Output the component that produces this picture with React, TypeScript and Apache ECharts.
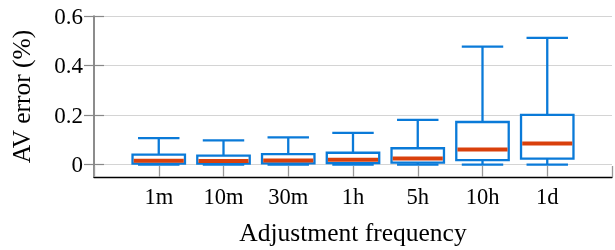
import React, { useEffect, useRef } from "react";
import * as echarts from "echarts";

const categories = ["1m", "10m", "30m", "1h", "5h", "10h", "1d"];
const minValues = [0, 0, 0, 0, 0, 0, 0];
const q1Values = [0.004, 0.004, 0.005, 0.006, 0.008, 0.018, 0.024];
const medianValues = [0.016, 0.015, 0.017, 0.02, 0.025, 0.061, 0.085];
const q3Values = [0.04, 0.036, 0.042, 0.048, 0.066, 0.172, 0.201];
const maxValues = [0.107, 0.098, 0.11, 0.128, 0.181, 0.476, 0.512];
const yTicks = [0, 0.2, 0.4, 0.6];

const BLUE = "#0a7ad8";
const ORANGE = "#d9400c";
const FONT = "'Liberation Serif', 'Times New Roman', serif";

export default function App() {
  const ref = useRef<HTMLDivElement>(null);
  useEffect(() => {
    if (!ref.current) return;
    const chart = echarts.init(ref.current, null, { renderer: "svg" });
    const data = categories.map((_, i) => [
      i + 1,
      minValues[i],
      q1Values[i],
      medianValues[i],
      q3Values[i],
      maxValues[i],
    ]);
    chart.setOption({
      animation: false,
      grid: { left: 91, top: 16, width: 525, height: 164 },
      xAxis: {
        type: "value",
        min: 0,
        max: categories.length + 1,
        interval: 1,
        name: "Adjustment frequency",
        nameLocation: "middle",
        nameGap: 42,
        nameTextStyle: { fontFamily: FONT, fontSize: 25.5, color: "#000" },
        axisLine: { show: true, onZero: false, lineStyle: { color: "#000", width: 1.3 } },
        axisTick: {
          show: true,
          inside: true,
          length: 11,
          lineStyle: { color: "#999", width: 1.3 },
        },
        axisLabel: {
          fontFamily: FONT,
          fontSize: 22.5,
          color: "#000",
          margin: 8,
          formatter: (v: number) => categories[Math.round(v) - 1] ?? "",
        },
        splitLine: { show: false },
      },
      yAxis: [
        {
          type: "value",
          min: -0.05,
          max: 0.6,
          name: "AV error (%)",
          nameLocation: "middle",
          nameGap: 60,
          nameTextStyle: { fontFamily: FONT, fontSize: 25.5, color: "#000" },
          axisLine: { show: true, onZero: false, lineStyle: { color: "#666", width: 1.5 } },
          axisTick: {
            show: true,
            inside: true,
            length: 10,
            lineStyle: { color: "#888", width: 1.2 },
            customValues: yTicks,
          },
          axisLabel: {
            fontFamily: FONT,
            fontSize: 23,
            color: "#000",
            margin: 11,
            customValues: yTicks,
          },
          splitLine: { show: true, lineStyle: { color: "#d4d4d4", width: 1.2 } },
        },
        {
          type: "value",
          min: -0.05,
          max: 0.6,
          position: "right",
          axisLine: { show: false },
          axisTick: {
            show: true,
            inside: true,
            length: 10,
            lineStyle: { color: "#888", width: 1.2 },
            customValues: yTicks,
          },
          axisLabel: { show: false, customValues: yTicks },
          splitLine: { show: false },
        },
      ],
      series: [
        {
          type: "custom",
          data,
          encode: { x: 0, y: [1, 2, 3, 4, 5] },
          renderItem: (params: any, api: any) => {
            const x = api.value(0);
            const band = api.size([1, 0])[0];
            const bw = band * 0.81;
            const cw = band * 0.64;
            const pMin = api.coord([x, api.value(1)]);
            const pQ1 = api.coord([x, api.value(2)]);
            const pMed = api.coord([x, api.value(3)]);
            const pQ3 = api.coord([x, api.value(4)]);
            const pMax = api.coord([x, api.value(5)]);
            const cx = pMin[0];
            const lineStyle = { stroke: BLUE, lineWidth: 2.3, fill: null };
            return {
              type: "group",
              children: [
                {
                  type: "line",
                  shape: { x1: cx, y1: pMax[1], x2: cx, y2: pQ3[1] },
                  style: lineStyle,
                },
                {
                  type: "line",
                  shape: { x1: cx, y1: pQ1[1], x2: cx, y2: pMin[1] },
                  style: lineStyle,
                },
                {
                  type: "line",
                  shape: { x1: cx - cw / 2, y1: pMax[1], x2: cx + cw / 2, y2: pMax[1] },
                  style: lineStyle,
                },
                {
                  type: "line",
                  shape: { x1: cx - cw / 2, y1: pMin[1], x2: cx + cw / 2, y2: pMin[1] },
                  style: lineStyle,
                },
                {
                  type: "rect",
                  shape: { x: cx - bw / 2, y: pQ3[1], width: bw, height: pQ1[1] - pQ3[1] },
                  style: { stroke: BLUE, lineWidth: 2.3, fill: "#fff" },
                },
                {
                  type: "line",
                  shape: { x1: cx - bw / 2 + 1.2, y1: pMed[1], x2: cx + bw / 2 - 1.2, y2: pMed[1] },
                  style: { stroke: ORANGE, lineWidth: 4 },
                },
              ],
            };
          },
        },
      ],
    });
    return () => chart.dispose();
  }, []);
  return (
    <div
      ref={ref}
      style={{ position: "fixed", left: 0, top: 0, width: 615, height: 250 }}
    />
  );
}
